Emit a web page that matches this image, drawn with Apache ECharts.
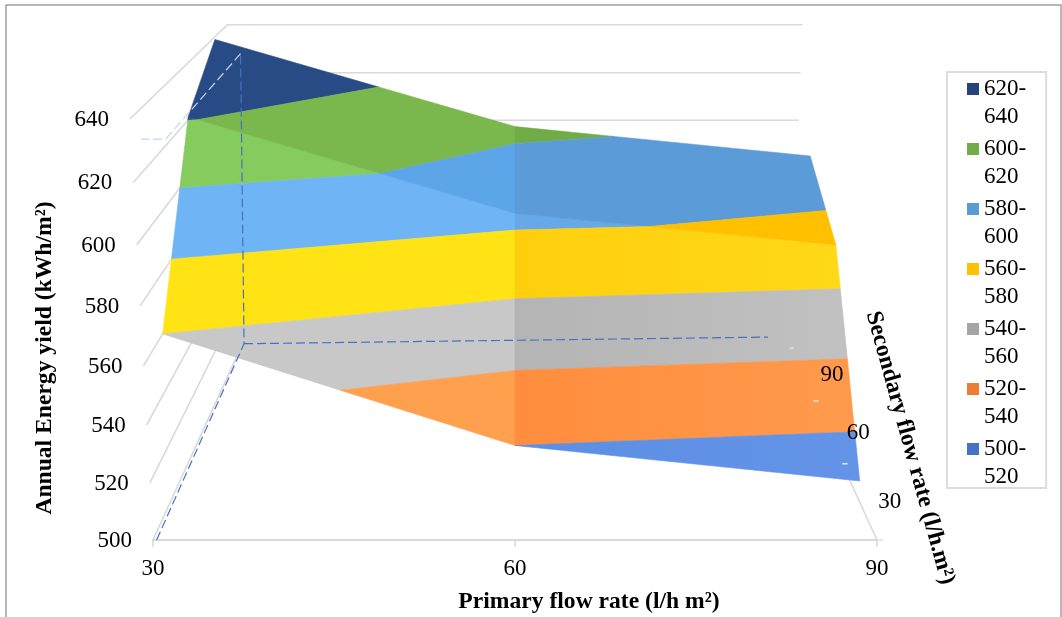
<!DOCTYPE html>
<html><head><meta charset="utf-8">
<style>html,body{margin:0;padding:0;background:#fff}#c{width:1062px;height:617px}</style>
<script src="https://cdn.jsdelivr.net/npm/echarts@6/dist/echarts.min.js"></script>
</head><body><div id="c"></div>
<script>
// ---- data ----
const primaryFlow = [30, 60, 90];
const secondaryFlow = [30, 60, 90];
const yieldAtSecondary30 = [560, 520, 507];
const yieldAtSecondary60 = [621, 585, 573];
const yieldAtSecondary90 = [639, 604, 592];
const valueTicks = [500, 520, 540, 560, 580, 600, 620, 640];
const bandLower = [620, 600, 580, 560, 540, 520, 500];
const bandUpper = [640, 620, 600, 580, 560, 540, 520];
const bandNames = ['620-640', '600-620', '580-600', '560-580', '540-560', '520-540', '500-520'];
// ---- dashed guide lines, in chart units: [primary, depth, yield] ----
const guideBack = [[31.4, 0.98, 628.6], [32.7, 0, 633.7], [30.8, 0, 633.7]];
const guideUpright = [[30.3, 0, 500], [30.4, 1, 502], [31.4, 0.98, 628.6]];
const guideFloor = [[30.4, 1, 502], [87.6, 1, 505]];
// ---- style tables ----
const legendColors = ['#264478', '#70ad47', '#5b9bd5', '#ffc000', '#a5a5a5', '#ed7d31', '#4472c4'];
// facet order: front-left, front-right, back-left, back-right
const facetColors = [
  ['#2b4d8a', '#2b4d8a', '#294b85', '#264478'],
  ['#85cb5e', '#7cc052', '#7ab84d', '#70ad47'],
  ['#6fb5f5', '#66a8e8', '#5ca5e8', '#5b9bd8'],
  ['#ffe314', ['#ffcf0d', '#ffd818'], '#ffd000', '#ffc000'],
  ['#c8c8c8', ['#b4b4b4', '#c1c1c1'], '#c0c0c0', '#b0b0b0'],
  ['#ffa04f', ['#ff8d3d', '#ff9a4c'], '#ffa04f', '#ff9345'],
  ['#6f9cf0', ['#5c8ee4', '#6394e8'], '#6f9cf0', '#5f90e5']
];
const SERIF = '"Liberation Serif","Times New Roman",serif';
const GRID = '#d9d9d9';

// ---- perspective of the 3-D box, in axis-normalised units ----
const DEPTH_W = 0.319, HEIGHT_W = -0.06, FLOOR = 1.2796, DEPTH_RISE = 0.1915, HEIGHT_RISE = 1.0145;
const yMin = valueTicks[0], yMax = valueTicks[valueTicks.length - 1];
const xMid = primaryFlow[1];
function depthOf(i) { return (i + 0.5) / secondaryFlow.length; }
// returns [x,y] on the front-plane axes, for primary p, depth t(0..1), yield v
function project(p, t, v) {
  const z = (v - yMin) / (yMax - yMin);
  const w = 1 + DEPTH_W * t + HEIGHT_W * z;
  const n = (FLOOR - DEPTH_RISE * t - HEIGHT_RISE * z) / w;
  return [xMid + (p - xMid) / w, yMin + (FLOOR - n) * (yMax - yMin)];
}
const yieldRows = [yieldAtSecondary30, yieldAtSecondary60, yieldAtSecondary90];
function cellCorners(col, row) {
  const c = [[col, row], [col + 1, row], [col + 1, row + 1], [col, row + 1]];
  return c.map(([a, b]) => [primaryFlow[a], depthOf(b), yieldRows[b][a]]);
}
function clip(poly, limit, keepAbove) {
  const out = [];
  const inside = q => keepAbove ? q[2] >= limit : q[2] <= limit;
  for (let i = 0; i < poly.length; i++) {
    const a = poly[i], b = poly[(i + 1) % poly.length];
    if (inside(a)) out.push(a);
    if (inside(a) !== inside(b)) {
      const f = (limit - a[2]) / (b[2] - a[2]);
      out.push([a[0] + (b[0] - a[0]) * f, a[1] + (b[1] - a[1]) * f, limit]);
    }
  }
  return out;
}
const cells = [[0, 0], [1, 0], [0, 1], [1, 1]];

function bandSeries(k) {
  return {
    type: 'custom', name: bandNames[k], coordinateSystem: 'cartesian2d', z: 5,
    itemStyle: { color: legendColors[k] }, silent: true, animation: false,
    data: cells.map((c, i) => [i]),
    renderItem(params, api) {
      const i = api.value(0), cell = cells[i];
      let poly = clip(cellCorners(cell[0], cell[1]), bandLower[k], true);
      poly = clip(poly, bandUpper[k], false);
      if (poly.length < 3) return { type: 'group', children: [] };
      const spec = facetColors[k][i];
      const col = Array.isArray(spec)
        ? new echarts.graphic.LinearGradient(0, 0, 1, 0, [{ offset: 0, color: spec[0] }, { offset: 1, color: spec[1] }])
        : spec;
      return {
        type: 'polygon',
        shape: { points: poly.map(q => api.coord(project(q[0], q[1], q[2]))) },
        style: { fill: col, stroke: col, lineWidth: 0.6 }
      };
    }
  };
}
function line(api, pts, style) {
  return { type: 'polyline', shape: { points: pts.map(q => api.coord(project(q[0], q[1], q[2]))) },
           style: Object.assign({ fill: null }, style) };
}
const frameSeries = {
  type: 'custom', name: 'frame', coordinateSystem: 'cartesian2d', z: 2, silent: true, animation: false,
  data: [[0]],
  renderItem(params, api) {
    const ch = [];
    const x0 = primaryFlow[0], x1 = primaryFlow[2];
    const gs = { stroke: GRID, lineWidth: 1.6 };
    valueTicks.forEach(v => {
      ch.push(line(api, [[x0, 0, v], [x0, 1, v], [x1, 1, v]], gs));
      const a = api.coord(project(x0, 0, v));
      ch.push({ type: 'text', style: { text: String(v), x: a[0] - 21, y: a[1] + 1, align: 'right', verticalAlign: 'middle', fill: '#000', font: '23px ' + SERIF } });
    });
    ch.push(line(api, [[x1, 0, yMin], [x1, 1, yMin]], gs));
    return { type: 'group', children: ch };
  }
};
const guideSeries = {
  type: 'custom', name: 'guides', coordinateSystem: 'cartesian2d', z: 8, silent: true, animation: false,
  data: [[0]],
  renderItem(params, api) {
    const ch = [];
    const x1 = primaryFlow[2];
    ch.push(line(api, guideBack, { stroke: '#c3d2ee', lineWidth: 1.2, lineDash: [9, 4] }));
    ch.push(line(api, guideUpright, { stroke: '#4472c4', lineWidth: 1.2, lineDash: [9, 4] }));
    ch.push(line(api, guideFloor, { stroke: '#4472c4', lineWidth: 1.2, lineDash: [9, 4] }));
    // series-axis tick marks at the bin edges along the right floor edge
    [0, 1 / 3, 2 / 3, 1].forEach(t => {
      ch.push(line(api, [[x1, t, yMin], [x1 + 0.5, t, yMin]], { stroke: '#e0e0e0', lineWidth: 1.6 }));
    });
    secondaryFlow.forEach((s, i) => {
      const a = api.coord(project(x1, depthOf(i), yMin));
      ch.push({ type: 'text', style: { text: String(s), x: a[0] + 31, y: a[1] + 2, align: 'center', verticalAlign: 'middle', fill: '#000', font: '23px ' + SERIF } });
    });
    return { type: 'group', children: ch };
  }
};
function titleText(text, x, y, rot) {
  return { type: 'text', x, y, rotation: rot, z: 20,
    style: { text, align: 'center', verticalAlign: 'middle', fill: '#000', font: 'bold 23.6px ' + SERIF } };
}
const chart = echarts.init(document.getElementById('c'), null, { renderer: 'canvas' });
chart.setOption({
  animation: false,
  backgroundColor: '#fff',
  color: legendColors,
  grid: { left: 153, top: 118, width: 724, height: 422, containLabel: false },
  xAxis: {
    type: 'value', min: 30, max: 90, interval: 30,
    axisLine: { show: true, onZero: false, lineStyle: { color: GRID, width: 2 } },
    axisTick: { show: true, length: 7, lineStyle: { color: GRID, width: 1.6 } },
    axisLabel: { show: true, margin: 17, color: '#000', fontFamily: SERIF, fontSize: 23, hideOverlap: false, showMinLabel: true, showMaxLabel: true },
    splitLine: { show: false }
  },
  yAxis: { type: 'value', min: yMin, max: yMax, interval: 20, show: false },
  legend: {
    show: true, orient: 'vertical', left: 947, top: 72, selectedMode: false,
    data: bandNames,
    itemWidth: 12, itemHeight: 56, itemGap: 4,
    padding: [3, 20, -3, 20],
    borderColor: '#dcdcdc', borderWidth: 2,
    icon: 'path://M0 0L0.01 0L0.01 0.01Z M0 8H12V20H0Z M0 55.99L0.01 56L0 56Z',
    formatter: n => n.replace('-', '-\n'),
    textStyle: { color: '#000', fontFamily: SERIF, fontSize: 23, lineHeight: 28 }
  },
  tooltip: { show: false },
  series: [frameSeries].concat(bandNames.map((n, k) => bandSeries(k))).concat([guideSeries]),
  graphic: [
    { type: 'polyline', z: 20, silent: true, shape: { points: [[6, 640], [6, 5], [1061, 5], [1061, 640]] },
      style: { fill: null, stroke: '#a0a0a0', lineWidth: 1.5 } },
    titleText('Primary flow rate (l/h m²)', 589, 602, 0),
    titleText('Annual Energy yield (kWh/m²)', 45, 358, Math.PI / 2),
    titleText('Secondary flow rate (l/h.m²)', 910, 448, -74.5 * Math.PI / 180)
  ]
});
</script></body></html>
